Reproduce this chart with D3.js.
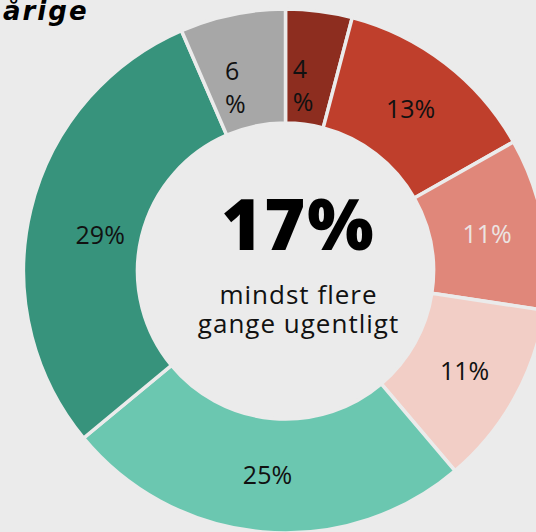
<!DOCTYPE html>
<html><head><meta charset="utf-8">
<script src="https://cdn.jsdelivr.net/npm/d3@7"></script>
<style>
html,body{margin:0;padding:0;background:#ebebeb;}
svg{display:block;}
</style></head>
<body>
<svg id="c" width="536" height="532"></svg>
<script>
const categories = ["a","b","c","d","e","f","g"];
const values = [4.1, 12.7, 10.6, 11.4, 25.2, 29.5, 6.5];
const labels = ["4%", "13%", "11%", "11%", "25%", "29%", "6%"];
const colors = ["#8d2d1f", "#bf3f2c", "#e0877a", "#f2cec6", "#6bc7b0", "#37937c", "#a7a7a7"];
const labelColors = ["#111", "#111", "#ece4e2", "#111", "#111", "#111", "#111"];
const centerValue = "17%";
const centerText = ["mindst flere", "gange ugentligt"];
const titleText = "årige";

const svg = d3.select("#c");
const W = 536, H = 532;
const cx = 285.5, cy = 271, rOuter = 262, rInner = 148;
const bg = "#ebebeb";

svg.append("rect").attr("width", W).attr("height", H).attr("fill", bg);

const pie = d3.pie().value(d => d).sort(null);
const arcs = pie(values);
const arc = d3.arc().innerRadius(rInner).outerRadius(rOuter);

const g = svg.append("g").attr("transform", `translate(${cx},${cy})`);
g.selectAll("path").data(arcs).join("path")
  .attr("d", arc)
  .attr("fill", (d, i) => colors[i])
  .attr("stroke", bg)
  .attr("stroke-width", 3.5)
  .attr("stroke-linejoin", "miter");

const nudge = {5: [14, 12]};
const labelFont = "'Open Sans', 'Work Sans', sans-serif";
arcs.forEach((d, i) => {
  const [x, y] = arc.centroid(d);
  const t = g.append("text")
    .attr("font-family", labelFont)
    .attr("font-size", 25)
    .attr("fill", labelColors[i]);
  if (values[i] < 8) {
    // narrow slice: label wraps into number / % lines, left aligned in a small box
    const num = labels[i].replace("%", "");
    t.attr("text-anchor", "start");
    t.append("tspan").attr("x", x - 19).attr("y", y + 10).text(num);
    t.append("tspan").attr("x", x - 19).attr("y", y + 43).text("%");
  } else {
    const n = nudge[i] || [0, 0];
    t.attr("text-anchor", "middle")
      .attr("x", x + n[0]).attr("y", y + n[1])
      .attr("dy", "0.36em")
      .text(labels[i]);
  }
});

const tx = 13;
g.append("text")
  .attr("text-anchor", "middle")
  .attr("x", tx)
  .attr("y", -21)
  .attr("font-family", labelFont)
  .attr("font-weight", 800)
  .attr("font-size", 70)
  .attr("letter-spacing", 2)
  .attr("fill", "#000")
  .text(centerValue);

centerText.forEach((s, i) => {
  g.append("text")
    .attr("text-anchor", "middle")
    .attr("x", tx)
    .attr("y", 33 + i * 29)
    .attr("font-family", labelFont)
    .attr("font-size", 26)
    .attr("letter-spacing", 1)
    .attr("fill", "#111")
    .text(s);
});

svg.append("text")
  .attr("x", 3).attr("y", 20)
  .attr("font-family", "'DejaVu Sans', Verdana, sans-serif")
  .attr("font-weight", "bold")
  .attr("font-style", "italic")
  .attr("font-size", 26)
  .attr("letter-spacing", 2)
  .attr("fill", "#000")
  .text(titleText);
</script>
</body></html>
